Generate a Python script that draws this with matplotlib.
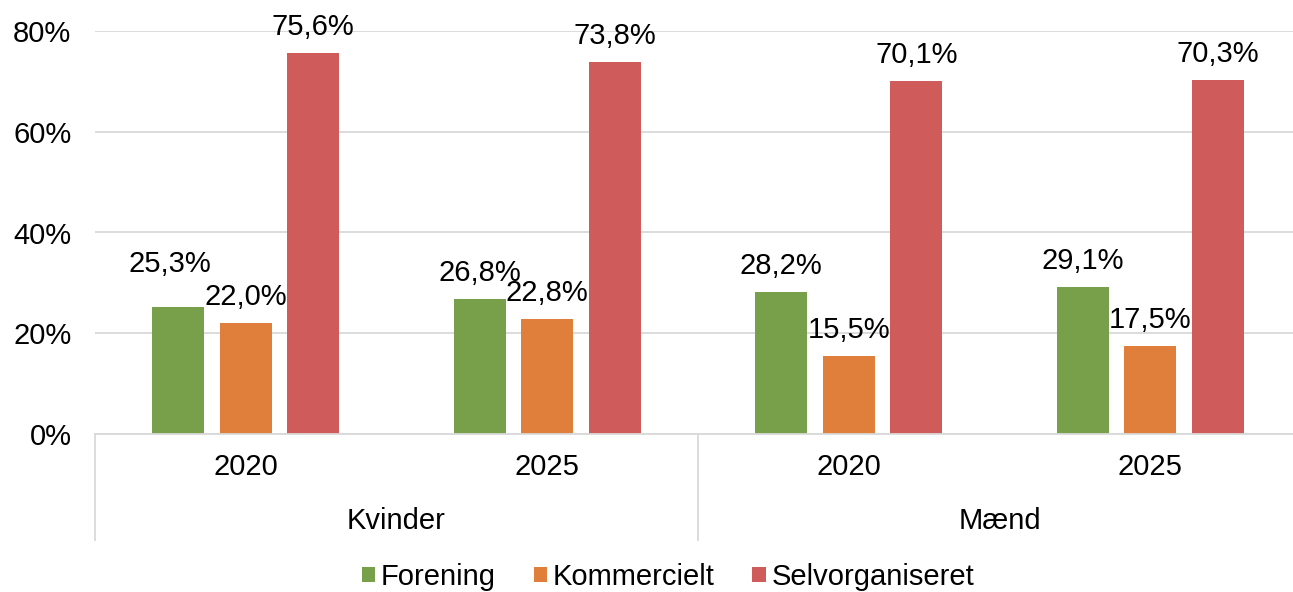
import matplotlib.pyplot as plt
import numpy as np
from matplotlib.lines import Line2D
from matplotlib.patches import Patch

plt.rcParams['font.family'] = ['Liberation Sans', 'DejaVu Sans']

years = ['2020', '2025', '2020', '2025']
groups = ['Kvinder', 'Mænd']
series = ['Forening', 'Kommercielt', 'Selvorganiseret']
forening = [25.3, 26.8, 28.2, 29.1]
kommercielt = [22.0, 22.8, 15.5, 17.5]
selvorg = [75.6, 73.8, 70.1, 70.3]
colors = ['#78A04A', '#E07E3C', '#D05B5B']

FS = 21
W, H = 1293, 592
fig = plt.figure(figsize=(W / 100, H / 100), dpi=100)
# axes in pixel terms: left 95, right 1301, top 31, bottom 434
ax = fig.add_axes([95 / W, 1 - 434 / H, 1206 / W, (434 - 31) / H])

x = np.arange(len(years))
bw = 0.172
step = 0.224
data = [forening, kommercielt, selvorg]
for i, (vals, c) in enumerate(zip(data, colors)):
    xs = x + (i - 1) * step
    bars = ax.bar(xs, vals, width=bw, color=c, zorder=3)
    for j, (xx, v) in enumerate(zip(xs, vals)):
        dx, dy = 0, 26
        if i == 0 and j == 0:
            dx, dy = -8, 43
        ax.annotate(f'{v:.1f}%'.replace('.', ','), (xx, v),
                    xytext=(dx, dy), textcoords='offset pixels',
                    ha='center', va='center', fontsize=FS, color='#000000')

ax.set_xlim(-0.5, 3.5)
ax.set_ylim(0, 80)
ax.set_yticks([0, 20, 40, 60, 80])
ax.set_yticklabels([f'{t}%' for t in [0, 20, 40, 60, 80]], fontsize=FS)
ax.tick_params(axis='y', length=0, pad=17)
ax.set_xticks([])
ax.grid(axis='y', color='#D9D9D9', linewidth=1.3, zorder=0)
for s in ['top', 'right', 'left']:
    ax.spines[s].set_visible(False)
ax.spines['bottom'].set_color('#D9D9D9')
ax.spines['bottom'].set_linewidth(1.3)
ax.spines['bottom'].set_zorder(4)

# two-level category axis
trans = ax.get_xaxis_transform()
px = 1 / (434 - 31)
for j, y in enumerate(years):
    ax.text(j, -(467 - 434) * px, y, transform=trans, ha='center', va='center', fontsize=FS)
for g, name in enumerate(groups):
    ax.text(g * 2 + 0.5, -(521 - 434) * px, name, transform=trans, ha='center', va='center', fontsize=FS)
for xd in [-0.5, 1.5, 3.5]:
    ax.add_line(Line2D([xd, xd], [0, -(540 - 434) * px], transform=trans,
                       color='#D9D9D9', linewidth=1.3, clip_on=False))

handles = [Patch(facecolor=c, edgecolor='none') for c in colors]
fig.legend(handles, series, loc='center', bbox_to_anchor=(668 / W, 1 - 577 / H),
           ncol=3, frameon=False, fontsize=FS, handlelength=0.45, handleheight=0.45,
           handletextpad=0.2, columnspacing=1.3, borderpad=0)

fig.savefig('out.png', dpi=100)
